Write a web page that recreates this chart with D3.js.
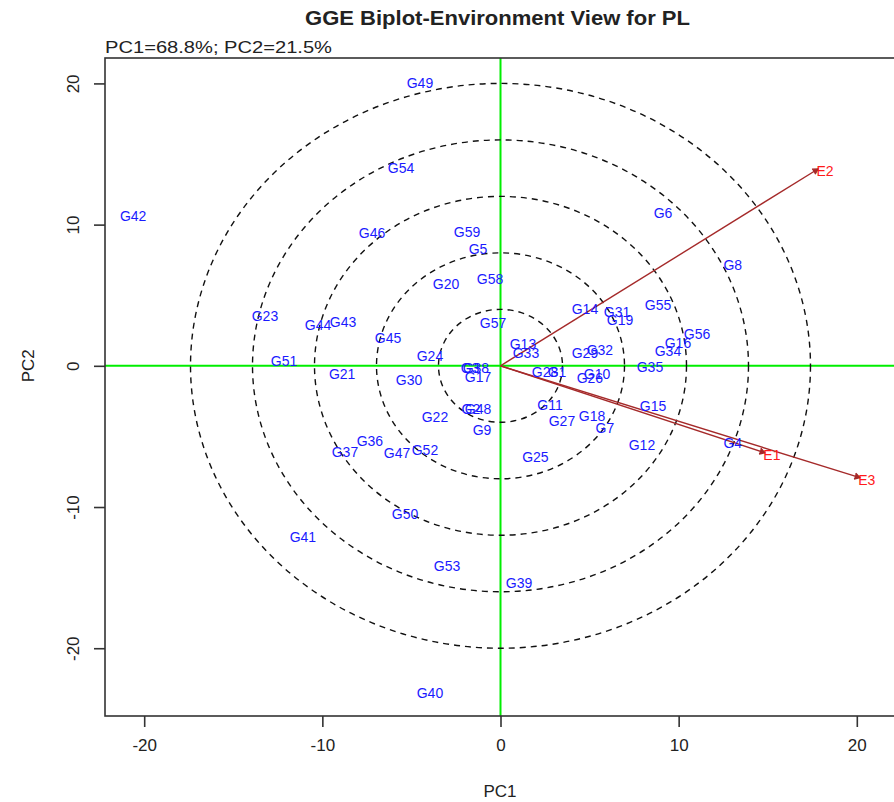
<!DOCTYPE html>
<html>
<head>
<meta charset="utf-8">
<script src="https://cdn.jsdelivr.net/npm/d3@7"></script>
<style>
  body { margin: 0; background: #fff; }
  svg { display: block; font-family: "Liberation Sans", Arial, sans-serif; }
</style>
</head>
<body>
<div id="chart"></div>
<script>
/* genotype scores */
var genotypes = ["G1","G2","G3","G4","G5","G6","G7","G8","G9","G10",
  "G11","G12","G13","G14","G15","G16","G17","G18","G19","G20",
  "G21","G22","G23","G24","G25","G26","G27","G28","G29","G30",
  "G31","G32","G33","G34","G35","G36","G37","G38","G39","G40",
  "G41","G42","G43","G44","G45","G46","G47","G48","G49","G50",
  "G51","G52","G53","G54","G55","G56","G57","G58","G59"];
var genoPC1 = [3.17,-1.66,-1.71,13.04,-1.26,9.12,5.86,13.04,-1.04,5.42,
  2.78,7.94,1.26,4.74,8.56,9.96,-1.26,5.14,6.71,-3.06,
  -8.89,-3.68,-13.22,-3.96,1.96,5.02,3.45,2.50,4.74,-5.13,
  6.54,5.58,1.43,9.40,8.39,-7.33,-8.73,-1.38,1.04,-3.96,
  -11.09,-20.62,-8.84,-10.24,-6.31,-7.21,-5.81,-1.26,-4.52,-5.36,
  -12.15,-4.24,-3.00,-5.58,8.84,11.03,-0.42,-0.59,-1.88];
var genoPC2 = [-0.44,-3.06,-0.16,-5.44,8.27,10.82,-4.38,7.14,-4.55,-0.58,
  -2.78,-5.62,1.54,4.03,-2.85,1.62,-0.79,-3.58,3.25,5.80,
  -0.58,-3.62,3.53,0.69,-6.45,-0.86,-3.87,-0.44,0.91,-1.00,
  3.81,1.13,0.91,1.05,-0.09,-5.33,-6.11,-0.16,-15.38,-23.17,
  -12.11,10.61,3.10,2.89,1.97,9.42,-6.18,-3.06,20.03,-10.50,
  0.34,-5.96,-14.18,14.02,4.30,2.29,3.03,6.15,9.48];

/* environment vectors */
var environments = ["E1","E2","E3"];
var envPC1 = [14.84, 17.82, 20.17];
var envPC2 = [-6.16, 13.94, -7.92];

var xTicks = [-20, -10, 0, 10, 20];
var yTicks = [-20, -10, 0, 10, 20];
var ringRadii = [4, 8, 12, 16, 20];

(function(){
var W = 894, H = 802;
var mLeft = 105, mTop = 58, mBottom = 716, mRight = 896;

var svg = d3.select("#chart").append("svg")
  .attr("width", W).attr("height", H);

var x = d3.scaleLinear().domain([-22.2, 22.2]).range([mLeft, mRight]);
var y = d3.scaleLinear().domain([-24.8, 21.8]).range([mBottom, mTop]);

svg.append("defs").append("clipPath").attr("id", "plotclip")
  .append("rect").attr("x", mLeft).attr("y", mTop)
  .attr("width", mRight - mLeft).attr("height", mBottom - mTop);

var plot = svg.append("g").attr("clip-path", "url(#plotclip)");

/* green axes through origin */
plot.append("line")
  .attr("x1", mLeft).attr("x2", mRight)
  .attr("y1", y(0)).attr("y2", y(0))
  .attr("stroke", "#00ee00").attr("stroke-width", 2);
plot.append("line")
  .attr("x1", x(0)).attr("x2", x(0))
  .attr("y1", mTop).attr("y2", mBottom)
  .attr("stroke", "#00ee00").attr("stroke-width", 2);

/* concentric rings (image is stretched, so x radius is shorter) */
var xStretch = 0.87;
plot.selectAll("ellipse.ring")
  .data(ringRadii)
  .enter()
  .append("ellipse")
  .attr("class", "ring")
  .attr("cx", x(0)).attr("cy", y(0))
  .attr("rx", function(d){ return x(d * xStretch) - x(0); })
  .attr("ry", function(d){ return y(0) - y(d); })
  .attr("fill", "none")
  .attr("stroke", "#111")
  .attr("stroke-width", 1.4)
  .attr("stroke-dasharray", "6,5");

/* environment arrows */
var envData = environments.map(function(n, i){ return {name: n, pc1: envPC1[i], pc2: envPC2[i]}; });
var brown = "#a52a2a";
plot.selectAll("line.env")
  .data(envData)
  .enter()
  .append("line")
  .attr("class", "env")
  .attr("x1", x(0)).attr("y1", y(0))
  .attr("x2", function(d){ return x(d.pc1); })
  .attr("y2", function(d){ return y(d.pc2); })
  .attr("stroke", brown).attr("stroke-width", 1.4);

/* small arrow heads */
plot.selectAll("path.head")
  .data(envData)
  .enter()
  .append("path")
  .attr("class", "head")
  .attr("d", function(d){
    var ex = x(d.pc1), ey = y(d.pc2);
    var a = Math.atan2(ey - y(0), ex - x(0));
    var len = 6, sp = Math.PI / 6;
    return "M" + (ex - len * Math.cos(a - sp)) + "," + (ey - len * Math.sin(a - sp)) +
           "L" + ex + "," + ey +
           "L" + (ex - len * Math.cos(a + sp)) + "," + (ey - len * Math.sin(a + sp));
  })
  .attr("fill", brown).attr("stroke", brown).attr("stroke-width", 1.4);

/* genotype labels */
var genoData = genotypes.map(function(n, i){ return {name: n, pc1: genoPC1[i], pc2: genoPC2[i]}; });
plot.selectAll("text.geno")
  .data(genoData)
  .enter()
  .append("text")
  .attr("class", "geno")
  .attr("x", function(d){ return x(d.pc1); })
  .attr("y", function(d){ return y(d.pc2); })
  .attr("dy", "0.36em")
  .attr("text-anchor", "middle")
  .attr("font-size", "14px")
  .attr("fill", "#1a1aff")
  .text(function(d){ return d.name; });

plot.selectAll("text.envlab")
  .data(envData)
  .enter()
  .append("text")
  .attr("class", "envlab")
  .attr("x", function(d){ return x(d.pc1) + 7; })
  .attr("y", function(d){ return y(d.pc2) + 2; })
  .attr("dy", "0.36em")
  .attr("text-anchor", "middle")
  .attr("font-size", "14px")
  .attr("fill", "#ff1a1a")
  .text(function(d){ return d.name; });

/* frame */
svg.append("rect")
  .attr("x", mLeft).attr("y", mTop)
  .attr("width", mRight - mLeft).attr("height", mBottom - mTop)
  .attr("fill", "none").attr("stroke", "#333").attr("stroke-width", 1.6);

/* axes */
var fmt = function(d){ return String(d); };
var xAxis = svg.append("g")
  .attr("transform", "translate(0," + mBottom + ")")
  .call(d3.axisBottom(x).tickValues(xTicks).tickFormat(fmt).tickSize(11).tickPadding(12));
var yAxis = svg.append("g")
  .attr("transform", "translate(" + mLeft + ",0)")
  .call(d3.axisLeft(y).tickValues(yTicks).tickFormat(fmt).tickSize(11).tickPadding(6));
[xAxis, yAxis].forEach(function(g){
  g.select(".domain").remove();
  g.selectAll(".tick line").attr("stroke", "#333").attr("stroke-width", 1.6);
  g.selectAll(".tick text").attr("font-size", "17px").attr("fill", "#222")
    .attr("font-family", "Liberation Sans, Arial, sans-serif");
});
yAxis.selectAll(".tick text")
  .attr("transform", "rotate(-90)")
  .attr("text-anchor", "middle")
  .attr("x", 0).attr("y", -26).attr("dy", "0");

/* titles */
svg.append("text")
  .attr("x", 305).attr("y", 25)
  .attr("font-size", "20px").attr("font-weight", "bold").attr("fill", "#222")
  .attr("textLength", 385).attr("lengthAdjust", "spacingAndGlyphs")
  .text("GGE Biplot-Environment View for PL");
svg.append("text")
  .attr("x", mLeft).attr("y", 53)
  .attr("font-size", "16px").attr("fill", "#222")
  .attr("textLength", 227).attr("lengthAdjust", "spacingAndGlyphs")
  .text("PC1=68.8%; PC2=21.5%");
svg.append("text")
  .attr("x", 500).attr("y", 797)
  .attr("text-anchor", "middle")
  .attr("font-size", "17px").attr("fill", "#222")
  .text("PC1");
svg.append("text")
  .attr("transform", "translate(34," + y(0) + ") rotate(-90)")
  .attr("text-anchor", "middle")
  .attr("font-size", "17px").attr("fill", "#222")
  .text("PC2");
})();
</script>
</body>
</html>
